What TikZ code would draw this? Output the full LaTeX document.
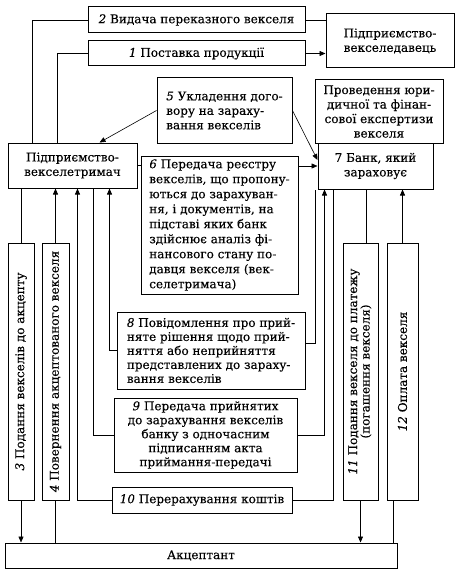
\documentclass[tikz,border=0pt]{standalone}
\usepackage{fontspec}
\setmainfont{DejaVu Serif}[FakeBold=0.25]
\usepackage{graphicx}
\usetikzlibrary{arrows.meta}
\tikzset{
	box/.style={draw, line width=1pt, inner sep=2pt, font=\fontsize{12}{14.5}\selectfont},
	link/.style={line width=0.6pt},
	arr/.style={line width=0.6pt, -{Triangle[length=6pt,width=5pt]}},
}
\newcommand{\nr}[1]{\textit{#1}}

\begin{document}
\begin{tikzpicture}[x=1pt, y=-1pt]
			%%%%% START %%%%%
			\useasboundingbox (0,0) rectangle (463,575);
			
			\node[box, minimum width=217, minimum height=26] (vydacha) at (196.5,20) {\nr{2} Видача переказного векселя};
			\node[box, minimum width=217, minimum height=25] (postavka) at (196.5,53.5) {\nr{1} Поставка продукції};
			\node[box, minimum width=128, minimum height=54, align=center] (vdav) at (390,41) {Підприємство-\\векселедавець};
			
			\node[box, minimum width=135, minimum height=65, align=left] (ukl) at (224.5,110.5) {\nr{5} Укладення дого-\\вору на зараху-\\вання векселів};
			\node[box, minimum width=128, minimum height=63, align=center] (expert) at (379,111.5) {Проведення юри-\\дичної та фінан-\\сової експертизи\\векселя};
			
			\node[box, minimum width=129, minimum height=45, align=center] (vtrym) at (72.5,165.5) {Підприємство-\\векселетримач};
			\node[box, minimum width=115, minimum height=46, align=center] (bank) at (375.5,166) {7 Банк, який\\зараховує};
			\node[box, minimum width=157, minimum height=138, align=left, font=\fontsize{12}{15}\selectfont] (reestr) at (219.5,225) {\nr{6} Передача реєстру\\векселів, що пропону-\\ються до зарахуван-\\ня, і документів, на\\підставі яких банк\\здійснює аналіз фі-\\нансового стану по-\\давця векселя (век-\\селетримача)};
			
			\node[box, minimum width=188, minimum height=77, align=left, font=\fontsize{12}{14}\selectfont] (povid) at (211,350.5) {\nr{8} Повідомлення про прий-\\няте рішення щодо прий-\\няття або неприйняття\\представлених до зараху-\\вання векселів};
			\node[box, minimum width=183, minimum height=74, align=center, font=\fontsize{12}{14}\selectfont] (peredacha) at (205.5,435) {\nr{9} Передача прийнятих\\до зарахування векселів\\банку з одночасним\\підписанням акта\\приймання-передачі};
			\node[box, minimum width=180, minimum height=26] (pererah) at (202,500) {\nr{10} Перерахування коштів};
			
			\node[box, minimum width=26, minimum height=257] (podannya) at (21,371.5) {\rotatebox{90}{\nr{3} Подання векселів до акцепту}};
			\node[box, minimum width=27, minimum height=257] (povern) at (55.5,371.5) {\rotatebox{90}{\nr{4} Повернення акцептованого векселя}};
			\node[box, minimum width=35, minimum height=257, inner sep=0pt] (platizh) at (360.5,371.5) {\rotatebox{90}{\renewcommand{\arraystretch}{0.78}\begin{tabular}{@{}c@{}}\nr{11} Подання векселя до платежу\\(погашення векселя)\end{tabular}}};
			\node[box, minimum width=31, minimum height=257] (oplata) at (402.5,371.5) {\rotatebox{90}{\nr{12} Оплата векселя}};
			
			\node[box, minimum width=392, minimum height=25] (akc) at (201,555.5) {Акцептант};
			
			% top row
			\draw[link] (vydacha.west) -| ([xshift=25]vtrym.north west);
			\draw[link] (postavka.west) -| ([xshift=50]vtrym.north west);
			\draw[link] (vydacha.east) -- (vydacha.east -| vdav.west);
			\draw[arr] (postavka.east) -- (postavka.east -| vdav.west);
			\draw[arr] (ukl.west) -- ([xshift=92]vtrym.north west);
			\draw[arr] (ukl.east) -- ([yshift=6]bank.west);
			\draw[link] (vtrym.east) -- (vtrym.east -| reestr.west);
			\draw[arr] (reestr.east |- bank.west) -- (bank.west);
			
			% holder and acceptor
			\draw[link] (podannya.north) -- (podannya.north |- vtrym.south);
			\draw[arr] (podannya.south) -- (podannya.south |- akc.north);
			\draw[arr] (povern.north) -- (povern.north |- vtrym.south);
			\draw[link] (povern.south) -- (povern.south |- akc.north);
			
			% holder and bank
			\draw[arr] (pererah.west) -| ([xshift=70]vtrym.south west);
			\draw[link] (peredacha.west) -| ([xshift=86]vtrym.south west);
			\draw[arr] (povid.west) -| ([xshift=102]vtrym.south west);
			\draw[link] ([yshift=7]povid.east) -| ([xshift=-2]bank.south west);
			\draw[arr] (peredacha.east) -| ([xshift=7]bank.south west);
			\draw[link] (pererah.east) -| ([xshift=16]bank.south west);
			
			% bank and acceptor
			\coordinate (p11) at ([xshift=6]platizh.north);
			\coordinate (p12) at ([xshift=7]oplata.south west);
			\draw[link] (p11) -- (p11 |- bank.south);
			\draw[arr] (platizh.south) -- (platizh.south |- akc.north);
			\draw[arr] (oplata.north) -- (oplata.north |- bank.south);
			\draw[link] (p12) -- (p12 |- akc.north);
			%%%%% END %%%%%
\end{tikzpicture}
\end{document}
